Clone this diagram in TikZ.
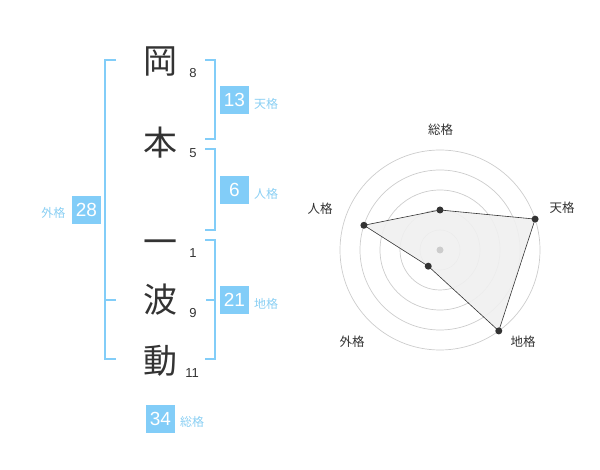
\documentclass[tikz,border=0pt]{standalone}
\usepackage{fontspec}
\setmainfont{Liberation Sans}
\newfontfamily\jpfont{Noto Sans CJK JP}
\definecolor{kakublue}{HTML}{82CDF8}
\definecolor{kakutext}{HTML}{8ACFF3}
\definecolor{ink}{HTML}{333333}
\definecolor{gridgray}{HTML}{CCCCCC}

\begin{document}
\begin{tikzpicture}[x=1pt,y=-1pt,
	kanji/.style={font=\jpfont\fontsize{34}{34}\selectfont,text=ink,inner sep=0pt},
	strokes/.style={font=\fontsize{13}{13}\selectfont,text=ink,inner sep=0pt},
	kakubox/.style={fill=kakublue,text=white,minimum width=29pt,minimum height=28pt,inner sep=0pt,font=\fontsize{19}{19}\selectfont},
	kakulabel/.style={font=\jpfont\fontsize{12}{12}\selectfont,text=kakutext,inner sep=0pt},
	chartlabel/.style={font=\jpfont\fontsize{12.5}{12.5}\selectfont,text=ink,inner sep=0pt},
	bracket/.style={draw=kakublue,line width=2pt}]
	\useasboundingbox (0,0) rectangle (600,470);

	% name, strokes
	\node[kanji] (oka) at (160,62) {岡};
	\node[kanji] (moto) at (160,143) {本};
	\node[kanji] (ichi) at (160,247) {一};
	\node[kanji] (nami) at (160,300) {波};
	\node[kanji] (dou) at (160,361) {動};
	\node[strokes] (s-oka) at (193,73) {8};
	\node[strokes] (s-moto) at (193,153) {5};
	\node[strokes] (s-ichi) at (193,253) {1};
	\node[strokes] (s-nami) at (193,313) {9};
	\node[strokes] (s-dou) at (192,373) {11};

	% brackets
	\draw[bracket] (116,60) -- (105,60) -- (105,359) -- (116,359);
	\draw[bracket] (105,300) -- (116,300);
	\draw[bracket] (205,60) -- (215,60) -- (215,139) -- (205,139);
	\draw[bracket] (205,149) -- (215,149) -- (215,230) -- (205,230);
	\draw[bracket] (205,240) -- (215,240) -- (215,359) -- (205,359);
	\draw[bracket] (215,300) -- (206,300);

	% scores
	\node[kakubox] (tenkaku) at (234.5,100) {13};
	\node[kakulabel] (l-tenkaku) at (266,104) {天格};
	\node[kakubox] (jinkaku) at (234.5,190) {6};
	\node[kakulabel] (l-jinkaku) at (266,194) {人格};
	\node[kakubox] (chikaku) at (234.5,300) {21};
	\node[kakulabel] (l-chikaku) at (266,304) {地格};
	\node[kakubox] (gaikaku) at (86.5,210) {28};
	\node[kakulabel] (l-gaikaku) at (53.5,213) {外格};
	\node[kakubox] (soukaku) at (160.5,419) {34};
	\node[kakulabel] (l-soukaku) at (192,422) {総格};

	% radar chart
	\begin{scope}[shift={(440,250)}]
		\foreach \r in {20,40,...,100}
			\draw[gridgray,line width=0.7pt] (0,0) circle[radius=\r pt];
		\coordinate (p-sou) at (-90:40);
		\coordinate (p-ten) at (-18:100);
		\coordinate (p-chi) at (54:100);
		\coordinate (p-gai) at (126:20);
		\coordinate (p-jin) at (198:80);
		\filldraw[fill=black!6,fill opacity=0.9,draw=ink,line width=0.6pt] (p-sou) -- (p-ten) -- (p-chi) -- (p-gai) -- (p-jin) -- cycle;
		\foreach \p in {p-sou,p-ten,p-chi,p-gai,p-jin}
			\fill[ink] (\p) circle[radius=3.5pt];
		\fill[gridgray] (0,0) circle[radius=3.5pt];
	\end{scope}
	\node[chartlabel] (c-sou) at (440.5,130) {総格};
	\node[chartlabel] (c-ten) at (562,208) {天格};
	\node[chartlabel] (c-jin) at (320,209) {人格};
	\node[chartlabel] (c-gai) at (352,342) {外格};
	\node[chartlabel] (c-chi) at (523,342) {地格};
\end{tikzpicture}
\end{document}
